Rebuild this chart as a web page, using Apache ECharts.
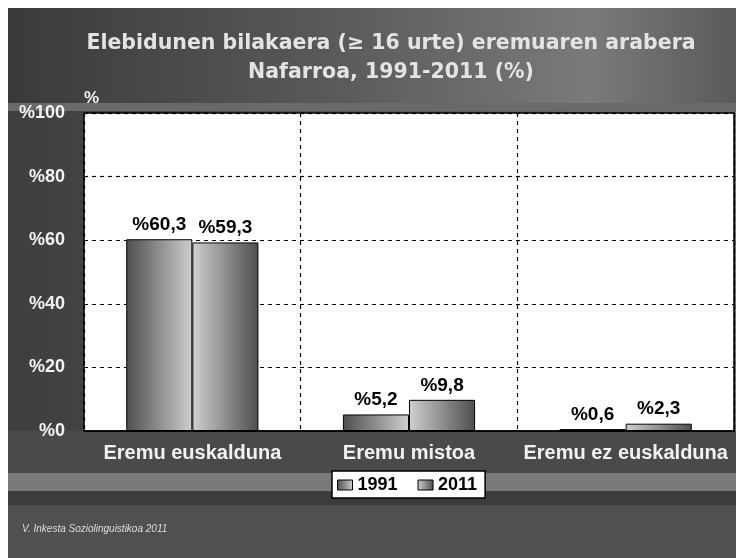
<!DOCTYPE html>
<html>
<head>
<meta charset="utf-8">
<script src="https://cdn.jsdelivr.net/npm/echarts@6/dist/echarts.min.js"></script>
<style>html,body{margin:0;padding:0;background:#fff}#c{width:736px;height:558px}</style>
</head>
<body>
<div id="c"></div>
<script>
var categories = ['Eremu euskalduna', 'Eremu mistoa', 'Eremu ez euskalduna'];
var seriesNames = ['1991', '2011'];
var values1991 = [60.3, 5.2, 0.6];
var values2011 = [59.3, 9.8, 2.3];
var yTicks = [0, 20, 40, 60, 80, 100];

var chart = echarts.init(document.getElementById('c'), null, {renderer: 'canvas'});
function grad(a, b) {
  return new echarts.graphic.LinearGradient(0, 0, 1, 0, [{offset: 0, color: a}, {offset: 1, color: b}]);
}
var fmt = function (p) { return '%' + p.value.toFixed(1).replace('.', ','); };
var font = '"Liberation Sans", Arial, sans-serif';
chart.setOption({
  animation: false,
  backgroundColor: '#ffffff',
  graphic: [
    {type: 'rect', z: -10, shape: {x: 8, y: 8, width: 728, height: 550},
     style: {fill: new echarts.graphic.LinearGradient(0, 0, 1, 0, [
       {offset: 0, color: '#3e3e3e'}, {offset: 0.5, color: '#575757'}, {offset: 1, color: '#6e6e6e'}])}},
    {type: 'rect', z: -9, shape: {x: 8, y: 8, width: 728, height: 95},
     style: {fill: new echarts.graphic.LinearGradient(0, 0, 1, 0, [
       {offset: 0, color: '#3a3a3a'}, {offset: 0.45, color: '#5a5a5a'}, {offset: 0.8, color: '#7a7a7a'}, {offset: 1, color: '#5a5a5a'}])}},
    {type: 'rect', z: -9, shape: {x: 8, y: 103, width: 728, height: 8}, style: {fill: '#6a6a6a'}},
    {type: 'rect', z: -9, shape: {x: 8, y: 431, width: 728, height: 42}, style: {fill: '#4a4a4a'}},
    {type: 'rect', z: -9, shape: {x: 8, y: 473, width: 728, height: 18}, style: {fill: '#7a7a7a'}},
    {type: 'rect', z: -9, shape: {x: 8, y: 491, width: 728, height: 14}, style: {fill: '#3c3c3c'}},
    {type: 'rect', z: -9, shape: {x: 8, y: 505, width: 728, height: 53}, style: {fill: '#505050'}},
    {type: 'text', left: 22, top: 524, style: {text: 'V. Inkesta Soziolinguistikoa 2011', fill: '#dddddd', font: 'italic 10px ' + font}}
  ],
  title: {
    text: 'Elebidunen bilakaera (≥ 16 urte) eremuaren arabera\nNafarroa, 1991-2011 (%)',
    left: 386, top: 24, textAlign: 'center',
    textStyle: {color: '#e4e4e4', fontSize: 20.5, fontWeight: 'bold', fontFamily: '"DejaVu Sans", sans-serif', lineHeight: 29}
  },
  legend: {
    data: seriesNames, left: 332, top: 471,
    icon: 'rect',
    backgroundColor: '#ffffff', borderColor: '#000', borderWidth: 1.5, borderRadius: 0,
    padding: [5, 8, 4, 5], itemGap: 20, itemWidth: 15, itemHeight: 10,
    itemStyle: {borderColor: '#000', borderWidth: 1},
    textStyle: {color: '#000', fontSize: 18, fontWeight: 'bold', fontFamily: font, padding: [0, 0, 0, 0]}
  },
  grid: {left: 84, right: 2, top: 113, bottom: 127, show: true, backgroundColor: '#ffffff', borderColor: '#000', borderWidth: 1.5, containLabel: false},
  xAxis: {
    type: 'category', data: categories,
    axisLine: {show: true, lineStyle: {color: '#000', width: 1.5}},
    axisTick: {show: false},
    axisLabel: {color: '#f2f2f2', fontSize: 20, fontWeight: 'bold', fontFamily: font, margin: 12, interval: 0},
    splitLine: {show: true, lineStyle: {color: '#000', type: [4, 4], width: 1.2}}
  },
  yAxis: {
    type: 'value', min: yTicks[0], max: yTicks[yTicks.length - 1], interval: 20,
    name: '%', nameLocation: 'end', nameGap: 6,
    nameTextStyle: {color: '#f2f2f2', fontSize: 17, fontWeight: 'bold', fontFamily: font, align: 'left', padding: [0, 0, 0, 0]},
    axisLine: {show: false}, axisTick: {show: false},
    axisLabel: {color: '#f2f2f2', fontSize: 18, fontWeight: 'bold', fontFamily: font, margin: 19, formatter: function (v) { return '%' + v; }},
    splitLine: {show: true, lineStyle: {color: '#000', type: [4, 4], width: 1.2}}
  },
  series: [
    {name: seriesNames[0], type: 'bar', data: values1991, barGap: '0%', barCategoryGap: '39%',
     itemStyle: {color: grad('#4e4e4e', '#cfcfcf'), borderColor: '#000', borderWidth: 1},
     label: {show: true, position: 'top', distance: 5, color: '#000', fontSize: 19, fontWeight: 'bold', fontFamily: font, formatter: fmt}},
    {name: seriesNames[1], type: 'bar', data: values2011,
     itemStyle: {color: grad('#d0d0d0', '#4e4e4e'), borderColor: '#000', borderWidth: 1},
     label: {show: true, position: 'top', distance: 5, color: '#000', fontSize: 19, fontWeight: 'bold', fontFamily: font, formatter: fmt}}
  ]
});
</script>
</body>
</html>
